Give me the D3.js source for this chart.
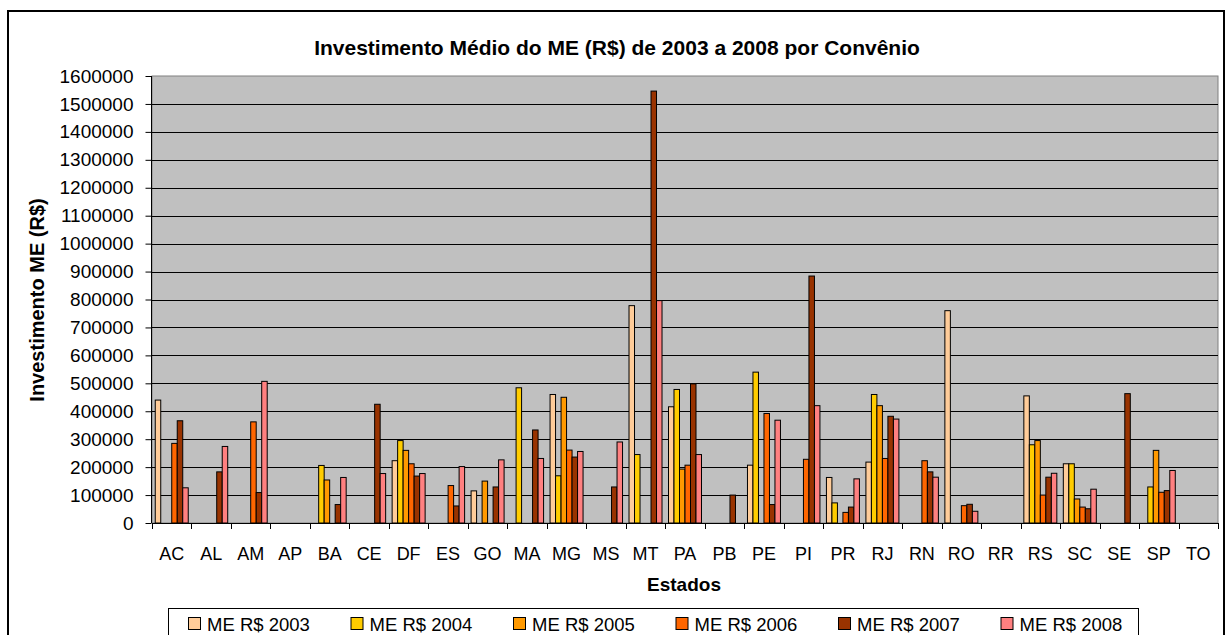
<!DOCTYPE html>
<html>
<head>
<meta charset="utf-8">
<script src="https://cdn.jsdelivr.net/npm/d3@7"></script>
<style>
  body { margin: 0; background: #fff; }
  text { font-family: "Liberation Sans", Arial, sans-serif; }
</style>
</head>
<body>
<div id="chart"></div>
<script>
// estados (categorias)
const estados = ["AC","AL","AM","AP","BA","CE","DF","ES","GO","MA","MG","MS","MT","PA","PB","PE","PI","PR","RJ","RN","RO","RR","RS","SC","SE","SP","TO"];

// valores
const me2003 = [440000,0,0,0,0,0,223000,0,115000,0,460000,0,778000,416000,0,207000,0,163000,218000,0,760000,0,455000,212000,0,0,0];
const me2004 = [0,0,0,0,206000,0,295000,0,0,484000,169000,0,245000,478000,0,540000,0,72000,460000,0,0,0,280000,212000,0,129000,0];
const me2005 = [0,0,0,0,154000,0,260000,0,150000,0,450000,0,0,193000,0,0,0,0,420000,0,0,0,295000,86000,0,260000,0];
const me2006 = [285000,0,362000,0,0,0,212000,134000,0,0,261000,0,0,207000,0,392000,228000,38000,231000,223000,62000,0,100000,57000,0,110000,0];
const me2007 = [366000,183000,109000,0,66000,425000,168000,61000,129000,333000,236000,129000,1546000,498000,100000,66000,884000,57000,382000,183000,67000,0,164000,51000,463000,116000,0];
const me2008 = [126000,274000,507000,0,163000,177000,177000,202000,226000,231000,256000,290000,796000,245000,0,368000,420000,158000,372000,164000,42000,0,178000,121000,0,188000,0];

const seriesNames = ["ME R$ 2003","ME R$ 2004","ME R$ 2005","ME R$ 2006","ME R$ 2007","ME R$ 2008"];
const seriesColors = ["#FFCC99","#FFCC00","#FF9900","#FF6600","#993300","#FF8080"];
const yTicks = d3.range(0, 1600001, 100000);

const series = [me2003, me2004, me2005, me2006, me2007, me2008];

const width = 1228, height = 635;
const plot = { left: 152, right: 1218, top: 76, bottom: 523 };

const svg = d3.select("#chart").append("svg")
    .attr("width", width)
    .attr("height", height);

// moldura externa do grafico
svg.append("rect")
    .attr("x", 8).attr("y", 11)
    .attr("width", 1216).attr("height", 640)
    .attr("fill", "#fff")
    .attr("stroke", "#000")
    .attr("stroke-width", 2);

const x0 = d3.scaleBand()
    .domain(estados)
    .range([plot.left, plot.right]);

const x1 = d3.scaleBand()
    .domain(d3.range(series.length))
    .range([0, x0.bandwidth()])
    .paddingOuter(0.59);

const y = d3.scaleLinear()
    .domain([0, 1600000])
    .range([plot.bottom, plot.top]);

// area do grafico
svg.append("rect")
    .attr("x", plot.left).attr("y", plot.top)
    .attr("width", plot.right - plot.left)
    .attr("height", plot.bottom - plot.top)
    .attr("fill", "#C0C0C0")
    .attr("stroke", "#808080")
    .attr("stroke-width", 1);

// linhas de grade
svg.append("g")
    .selectAll("line")
    .data(yTicks.filter(d => d > 0 && d < 1600000))
    .enter().append("line")
    .attr("x1", plot.left).attr("x2", plot.right)
    .attr("y1", d => Math.round(y(d)) + 0.5)
    .attr("y2", d => Math.round(y(d)) + 0.5)
    .attr("stroke", "#000")
    .attr("stroke-width", 1);

// barras
const rows = [];
series.forEach((vals, s) => {
    vals.forEach((v, i) => {
        if (v > 0) rows.push({ s: s, cat: estados[i], v: v });
    });
});

svg.append("g")
    .selectAll("rect")
    .data(rows)
    .enter().append("rect")
    .attr("x", d => x0(d.cat) + x1(d.s))
    .attr("y", d => y(d.v))
    .attr("width", x1.bandwidth())
    .attr("height", d => y(0) - y(d.v))
    .attr("fill", d => seriesColors[d.s])
    .attr("stroke", "#000")
    .attr("stroke-width", 1);

// eixo Y
const yAxis = svg.append("g")
    .attr("transform", "translate(" + (plot.left - 0.5) + ",0)")
    .call(d3.axisLeft(y).tickValues(yTicks).tickSize(6).tickPadding(12).tickFormat(d3.format("d")));
yAxis.select(".domain").attr("stroke", "#000").attr("d", "M0," + plot.top + "V" + plot.bottom);
yAxis.selectAll(".tick line").attr("stroke", "#000");
yAxis.selectAll("text")
    .attr("fill", "#000")
    .style("font-size", "19px")
    .style("font-family", "Liberation Sans, Arial, sans-serif");

// eixo X
const xTickPos = estados.map(c => x0(c)).concat([plot.right]);
svg.append("line")
    .attr("x1", plot.left).attr("x2", plot.right)
    .attr("y1", plot.bottom + 0.5).attr("y2", plot.bottom + 0.5)
    .attr("stroke", "#000");
svg.append("g")
    .selectAll("line")
    .data(xTickPos)
    .enter().append("line")
    .attr("x1", d => Math.round(d) + 0.5).attr("x2", d => Math.round(d) + 0.5)
    .attr("y1", plot.bottom).attr("y2", plot.bottom + 6)
    .attr("stroke", "#000");
svg.append("g")
    .selectAll("text")
    .data(estados)
    .enter().append("text")
    .attr("x", d => x0(d) + x0.bandwidth() / 2)
    .attr("y", 560)
    .attr("text-anchor", "middle")
    .style("font-size", "18px")
    .text(d => d);

// titulos
svg.append("text")
    .attr("x", 617).attr("y", 55)
    .attr("text-anchor", "middle")
    .style("font-size", "21px")
    .style("font-weight", "bold")
    .text("Investimento Médio do ME (R$) de 2003 a 2008 por Convênio");

svg.append("text")
    .attr("x", 684).attr("y", 591)
    .attr("text-anchor", "middle")
    .style("font-size", "19px")
    .style("font-weight", "bold")
    .text("Estados");

svg.append("text")
    .attr("transform", "translate(44,300) rotate(-90)")
    .attr("text-anchor", "middle")
    .style("font-size", "20px")
    .style("font-weight", "bold")
    .text("Investimento ME (R$)");

// legenda
const legend = svg.append("g");
legend.append("rect")
    .attr("x", 168.5).attr("y", 608.5)
    .attr("width", 970).attr("height", 40)
    .attr("fill", "#fff")
    .attr("stroke", "#000");

const leg = legend.selectAll(".leg")
    .data(seriesNames)
    .enter().append("g")
    .attr("class", "leg")
    .attr("transform", (d, i) => "translate(" + (188 + i * 162.5) + ",617)");
leg.append("rect")
    .attr("x", 0.5).attr("y", 0.5)
    .attr("width", 12).attr("height", 12)
    .attr("fill", (d, i) => seriesColors[i])
    .attr("stroke", "#000");
leg.append("text")
    .attr("x", 19).attr("y", 14)
    .style("font-size", "18.5px")
    .text(d => d);
</script>
</body>
</html>
